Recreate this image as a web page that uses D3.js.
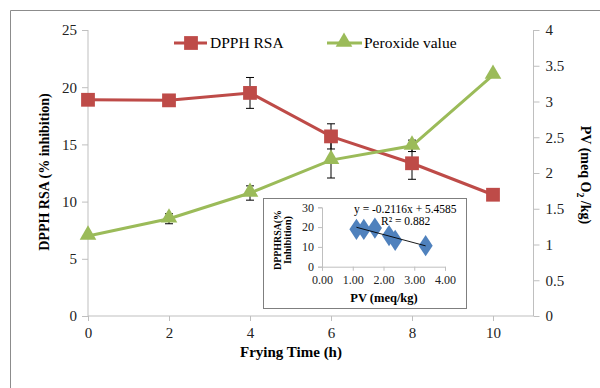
<!DOCTYPE html>
<html>
<head>
<meta charset="utf-8">
<script src="https://cdn.jsdelivr.net/npm/d3@7"></script>
<style>
  body { margin: 0; background: #fff; }
  svg { display: block; font-family: "Liberation Serif", "Times New Roman", serif; }
  .axis path, .axis line { stroke: #bfbfbf; }
  .axis text { font-family: "Liberation Serif", "Times New Roman", serif; font-size: 15px; fill: #222; }
  .inset .axis text { font-size: 12px; }
</style>
</head>
<body>
<svg id="chart" width="600" height="388"></svg>
<script>
// data
var times = [0, 2, 4, 6, 8, 10];
var dpph = [18.9, 18.85, 19.5, 15.7, 13.35, 10.6];
var dpphErr = [0.15, 0.2, 1.35, 1.1, 1.4, 0.1];
var pv = [1.12, 1.36, 1.72, 2.18, 2.38, 3.37];
var pvErr = [0.03, 0.07, 0.1, 0.25, 0.08, 0.03];

var xTicks = [0, 2, 4, 6, 8, 10];
var leftTicks = [0, 5, 10, 15, 20, 25];
var rightTicks = [0, 0.5, 1, 1.5, 2, 2.5, 3, 3.5, 4];
var insetXTicks = [0, 1, 2, 3, 4];
var insetYTicks = [0, 10, 20, 30];

var red = "#be4b48", green = "#9bbb59", blue = "#4f81bd";
var serif = "Liberation Serif, Times New Roman, serif";

var svg = d3.select("#chart");

// outer frame
svg.append("path")
  .attr("d", "M10.5,388 V10.5 H600")
  .attr("fill", "none").attr("stroke", "#8c8c8c");

var x = d3.scaleLinear().domain([0, 11]).range([88, 533.5]);
var yL = d3.scaleLinear().domain([0, 25]).range([316, 30]);
var yR = d3.scaleLinear().domain([0, 4]).range([316, 30]);

// axes
svg.append("g").attr("class", "axis").attr("transform", "translate(0,316)")
  .call(d3.axisBottom(x).tickValues(xTicks).tickSize(5).tickPadding(6).tickFormat(d => d))
  .attr("font-family", serif)
  .call(g => g.select(".domain").attr("d", "M88,0H533.5"));
svg.append("g").attr("class", "axis").attr("transform", "translate(88,0)")
  .call(d3.axisLeft(yL).tickValues(leftTicks).tickSize(6).tickPadding(5).tickFormat(d => d))
  .attr("font-family", serif)
  .call(g => g.select(".domain").attr("d", "M0,30V316"));
svg.append("g").attr("class", "axis").attr("transform", "translate(533.5,0)")
  .call(d3.axisRight(yR).tickValues(rightTicks).tickSize(6).tickPadding(6).tickFormat(d => d))
  .attr("font-family", serif)
  .call(g => g.select(".domain").attr("d", "M0,30V316"));

// axis titles
svg.append("text").attr("transform", "translate(49,172) rotate(-90)")
  .attr("text-anchor", "middle").attr("font-weight", "bold").attr("font-size", 14)
  .text("DPPH RSA (% inhibition)");
var rt = svg.append("text").attr("transform", "translate(581,175) rotate(90)")
  .attr("text-anchor", "middle").attr("font-weight", "bold").attr("font-size", 14);
rt.append("tspan").text("PV (meq O");
rt.append("tspan").attr("font-size", 10).attr("dy", 4).text("2");
rt.append("tspan").attr("dy", -4).text(" /kg)");
svg.append("text").attr("x", 291).attr("y", 357)
  .attr("text-anchor", "middle").attr("font-weight", "bold").attr("font-size", 15)
  .text("Frying Time (h)");

// error bars
function errorBars(vals, errs, y) {
  var g = svg.append("g").attr("stroke", "#000").attr("stroke-width", 1);
  times.forEach(function(t, i) {
    var cx = x(t), y0 = y(vals[i] - errs[i]), y1 = y(vals[i] + errs[i]);
    g.append("line").attr("x1", cx).attr("x2", cx).attr("y1", y0).attr("y2", y1);
    g.append("line").attr("x1", cx - 4).attr("x2", cx + 4).attr("y1", y0).attr("y2", y0);
    g.append("line").attr("x1", cx - 4).attr("x2", cx + 4).attr("y1", y1).attr("y2", y1);
  });
}
errorBars(dpph, dpphErr, yL);
errorBars(pv, pvErr, yR);

// lines
var lineL = d3.line().x((d, i) => x(times[i])).y(d => yL(d));
var lineR = d3.line().x((d, i) => x(times[i])).y(d => yR(d));
svg.append("path").datum(dpph).attr("d", lineL)
  .attr("fill", "none").attr("stroke", red).attr("stroke-width", 3);
svg.append("path").datum(pv).attr("d", lineR)
  .attr("fill", "none").attr("stroke", green).attr("stroke-width", 3);

// markers
var sq = d3.symbol().type(d3.symbolSquare).size(190);
var tri = d3.symbol().type(d3.symbolTriangle).size(120);
svg.selectAll(".sq").data(dpph).join("path")
  .attr("d", sq).attr("fill", red)
  .attr("transform", (d, i) => "translate(" + x(times[i]) + "," + yL(d) + ")");
svg.selectAll(".tri").data(pv).join("path")
  .attr("d", tri).attr("fill", green)
  .attr("transform", (d, i) => "translate(" + x(times[i]) + "," + (yR(d) - 1) + ")");

// legend
var lg = svg.append("g");
lg.append("line").attr("x1", 174).attr("x2", 207).attr("y1", 43).attr("y2", 43)
  .attr("stroke", red).attr("stroke-width", 3);
lg.append("path").attr("d", sq).attr("fill", red).attr("transform", "translate(191,43)");
lg.append("text").attr("x", 210).attr("y", 48).attr("font-size", 15.5).text("DPPH RSA");
lg.append("line").attr("x1", 327).attr("x2", 362).attr("y1", 43).attr("y2", 43)
  .attr("stroke", green).attr("stroke-width", 3);
lg.append("path").attr("d", tri).attr("fill", green).attr("transform", "translate(344,42)");
lg.append("text").attr("x", 364).attr("y", 48).attr("font-size", 15.5).text("Peroxide value");

// inset scatter
var inset = svg.append("g").attr("class", "inset");
inset.append("rect").attr("x", 263.5).attr("y", 198.5).attr("width", 203).attr("height", 110)
  .attr("fill", "#fff").attr("stroke", "#7f7f7f");

var ix = d3.scaleLinear().domain([0, 4]).range([322, 445]);
var iy = d3.scaleLinear().domain([0, 30]).range([266.7, 207.3]);

inset.append("g").attr("class", "axis").attr("transform", "translate(0,266.7)")
  .call(d3.axisBottom(ix).tickValues(insetXTicks).tickSize(4).tickPadding(5).tickFormat(d3.format(".2f")))
  .attr("font-family", serif);
inset.append("g").attr("class", "axis").attr("transform", "translate(322,0)")
  .call(d3.axisLeft(iy).tickValues(insetYTicks).tickSize(4).tickPadding(4))
  .attr("font-family", serif);

// least-squares trendline over the points
var mx = d3.mean(pv), my = d3.mean(dpph);
var slope = d3.sum(pv, (v, i) => (v - mx) * (dpph[i] - my)) / d3.sum(pv, v => (v - mx) * (v - mx));
var icpt = my - slope * mx;
var xr = d3.extent(pv);

var dia = d3.symbol().type(d3.symbolDiamond).size(130);
inset.selectAll(".dia").data(pv).join("path")
  .attr("d", dia).attr("fill", blue)
  .attr("transform", (d, i) => "translate(" + ix(d) + "," + iy(dpph[i]) + ") scale(1.15,1)");
inset.append("line")
  .attr("x1", ix(xr[0])).attr("y1", iy(icpt + slope * xr[0]))
  .attr("x2", ix(xr[1])).attr("y2", iy(icpt + slope * xr[1]))
  .attr("stroke", "#000").attr("stroke-width", 0.9);

inset.append("text").attr("x", 354).attr("y", 213).attr("font-size", 11.5).text("y = -0.2116x + 5.4585");
inset.append("text").attr("x", 381).attr("y", 225).attr("font-size", 11.5).text("R² = 0.882");
inset.append("text").attr("x", 384).attr("y", 302).attr("text-anchor", "middle")
  .attr("font-weight", "bold").attr("font-size", 12.5).text("PV (meq/kg)");
var il = inset.append("text").attr("transform", "translate(281,240) rotate(-90)")
  .attr("text-anchor", "middle").attr("font-weight", "bold").attr("font-size", 9.5);
il.append("tspan").attr("x", 0).attr("y", 0).attr("textLength", 60).attr("lengthAdjust", "spacingAndGlyphs").text("DPPHRSA(%");
il.append("tspan").attr("x", 0).attr("y", 10).attr("textLength", 48).attr("lengthAdjust", "spacingAndGlyphs").text("Inhibition)");
</script>
</body>
</html>
